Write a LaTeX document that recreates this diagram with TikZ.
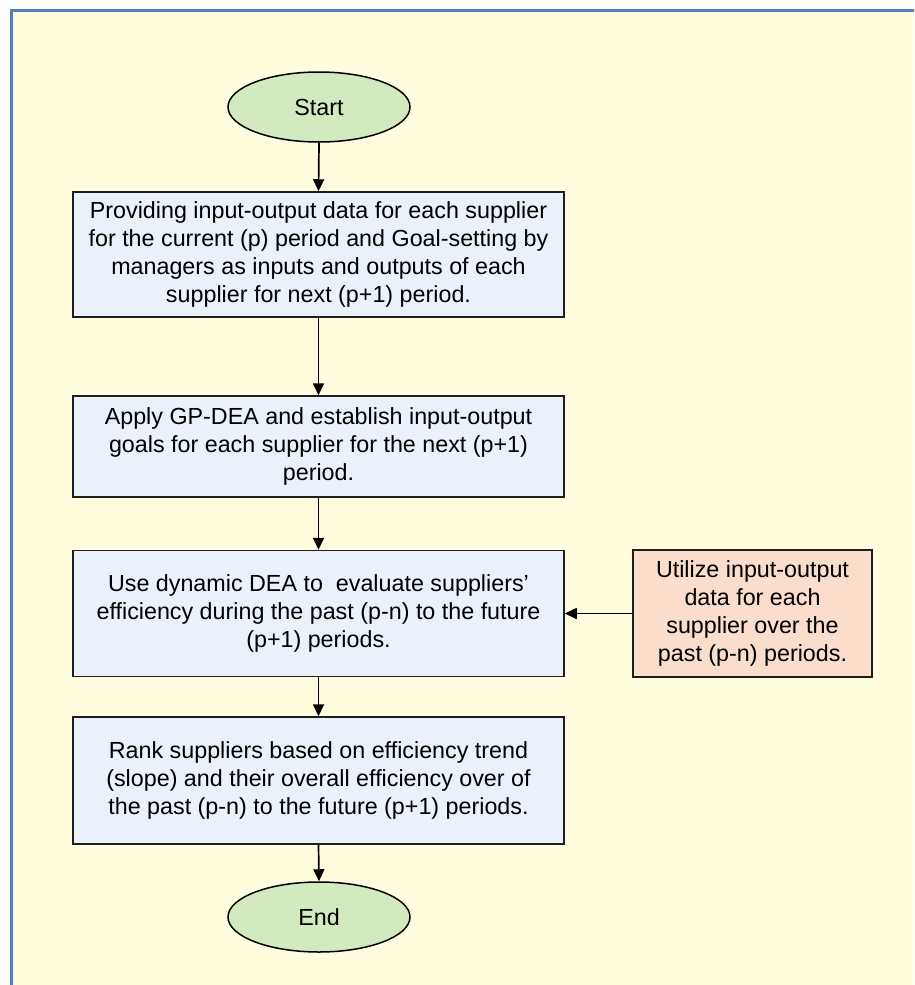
\documentclass[tikz,border=0pt]{standalone}
\usepackage{fontspec}
\setmainfont{Liberation Sans}
\usetikzlibrary{shapes.geometric,arrows.meta}
\definecolor{bgyellow}{RGB}{255,253,222}
\definecolor{frameblue}{RGB}{79,129,189}
\definecolor{boxblue}{RGB}{235,241,250}
\definecolor{termgreen}{RGB}{211,234,190}
\definecolor{peach}{RGB}{250,221,203}
\definecolor{edge}{RGB}{30,30,30}
\tikzset{
  txt/.style={font=\fontsize{23.3}{28}\selectfont, text=black, align=center, inner sep=0pt},
  procbox/.style={txt, draw=edge, line width=1.5pt, fill=boxblue, minimum width=491pt},
  sidebox/.style={txt, draw=edge, line width=1.5pt, fill=peach, minimum width=239pt, minimum height=127pt},
  term/.style={txt, ellipse, draw=black, line width=1.5pt, fill=termgreen, minimum width=182pt, minimum height=70pt},
  flow/.style={draw=black, line width=1.7pt, -{Triangle[length=12pt,width=11pt]}}
}
\begin{document}
\begin{tikzpicture}[x=1pt,y=-1pt]
\useasboundingbox (0,0) rectangle (914,985);
\begin{scope}
\clip (0,0) rectangle (914,985);
\fill[bgyellow] (11.5,10.5) rectangle (960,1030);
\draw[frameblue, line width=2.6pt] (11.5,10.5) rectangle (960,1030);
\end{scope}

\node[term] (start) at (319,107) {Start};
\node[procbox, minimum height=125pt] (b1) at (318.5,254.5)
  {Providing input-output data for each supplier\\
   for the current (p) period and Goal-setting by\\
   managers as inputs and outputs of each\\
   supplier for next (p+1) period.};
\node[procbox, minimum height=101pt] (b2) at (318.5,446.5)
  {Apply GP-DEA and establish input-output\\
   goals for each supplier for the next (p+1)\\
   period.};
\node[procbox, minimum height=126pt] (b3) at (318.5,613.5)
  {Use dynamic DEA to~ evaluate suppliers’\\
   efficiency during the past (p-n) to the future\\
   (p+1) periods.};
\node[sidebox] (side) at (752.5,613.5)
  {Utilize input-output\\
   data for each\\
   supplier over the\\
   past (p-n) periods.};
\node[procbox, minimum height=127pt] (b4) at (318.5,780.5)
  {Rank suppliers based on efficiency trend\\
   (slope) and their overall efficiency over of\\
   the past (p-n) to the future (p+1) periods.};
\node[term] (end) at (319,917) {End};

\draw[flow] (start.south) -- (b1.north);
\draw[flow] (b1.south) -- (b2.north);
\draw[flow] (b2.south) -- (b3.north);
\draw[flow] (b3.south) -- (b4.north);
\draw[flow] (b4.south) -- (end.north);
\draw[flow] (side.west) -- (b3.east);
\end{tikzpicture}
\end{document}
